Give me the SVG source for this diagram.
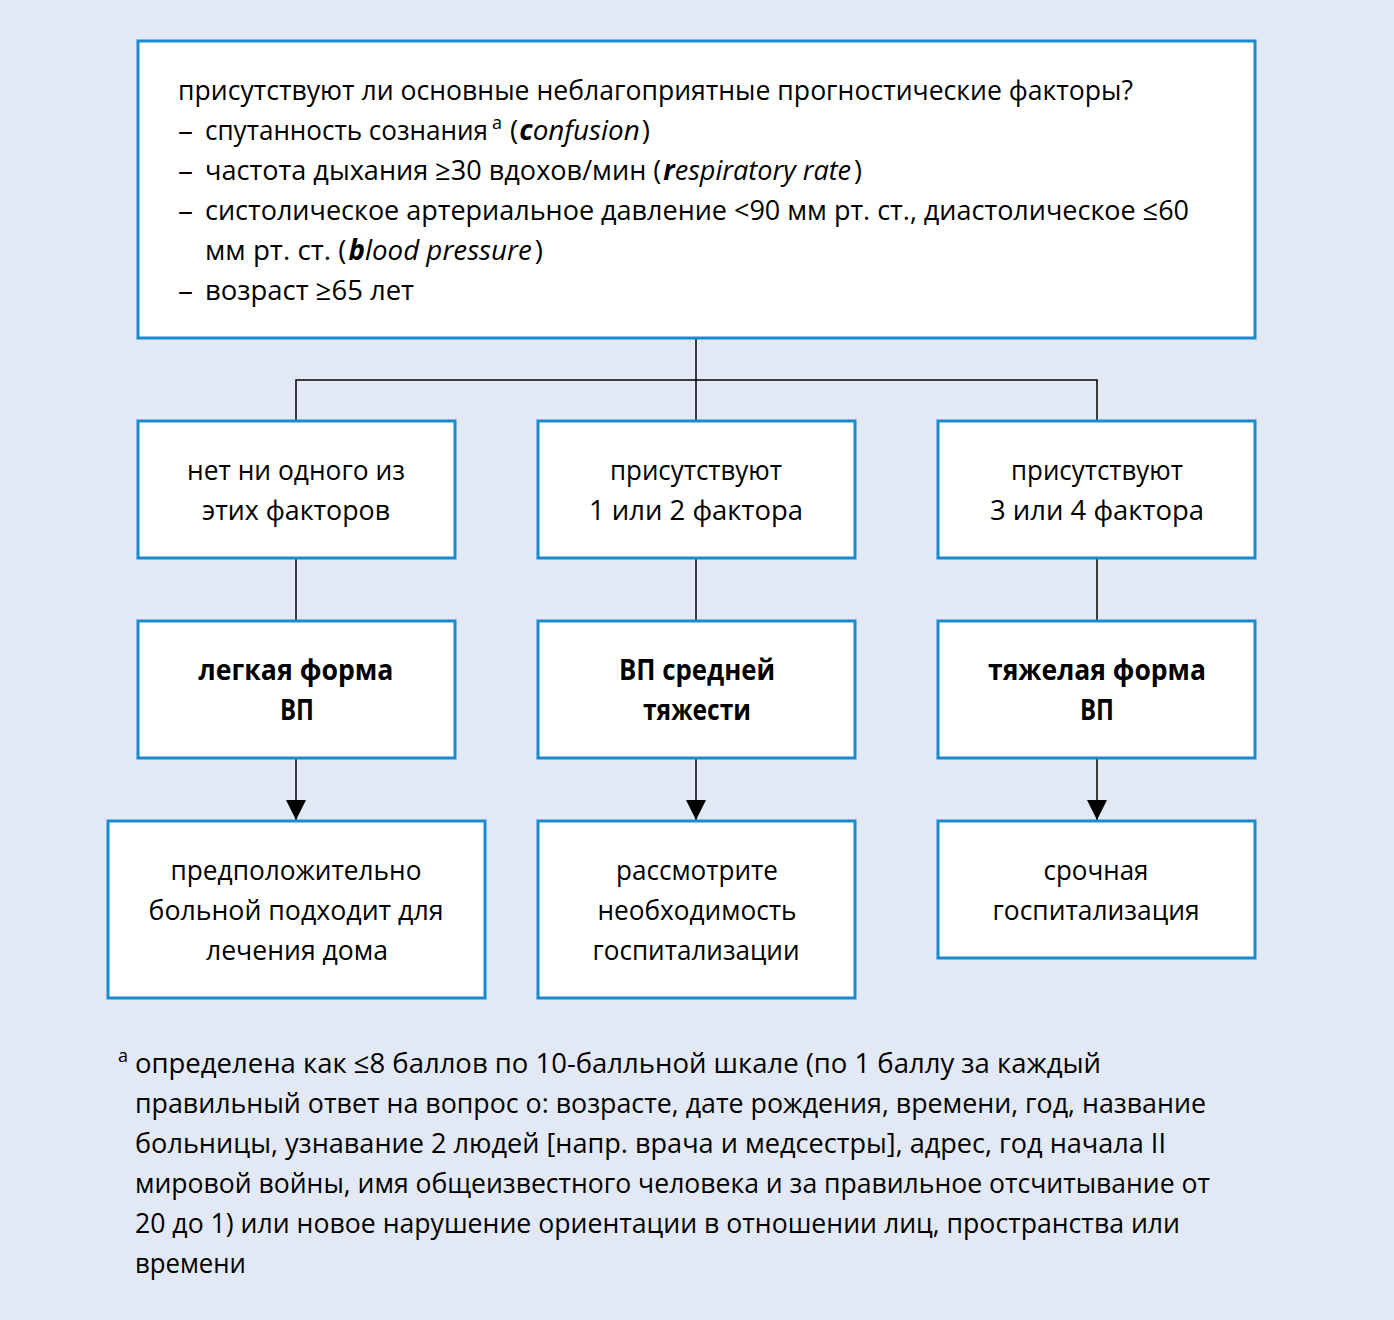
<svg xmlns="http://www.w3.org/2000/svg" width="1394" height="1320" viewBox="0 0 1394 1320">
<style>
  .box { fill: #ffffff; stroke: #1a8ad0; stroke-width: 3; }
  .ln { fill: none; stroke: #000000; stroke-width: 1.5; }
  text { font-family: "Open Sans", "Noto Sans", "DejaVu Sans", sans-serif; font-size: 28px; fill: #000000; }
  .c { text-anchor: middle; }
  .b { font-weight: 700; }
  .i { font-style: italic; }
  .sup { font-size: 18px; }
</style>
<defs>
  <marker id="arr" viewBox="0 0 20 20" refX="20" refY="10" markerWidth="20" markerHeight="20" markerUnits="userSpaceOnUse" orient="auto">
    <path d="M0,0 L20,10 L0,20 Z" fill="#000000"/>
  </marker>
</defs>
<rect x="0" y="0" width="1394" height="1320" fill="#e2e9f4"/>

<g id="connectors">
  <line class="ln" x1="696" y1="338" x2="696" y2="421"/>
  <polyline class="ln" points="296,421 296,380 1097,380 1097,421"/>
  <line class="ln" x1="296" y1="558" x2="296" y2="621"/>
  <line class="ln" x1="696" y1="558" x2="696" y2="621"/>
  <line class="ln" x1="1097" y1="558" x2="1097" y2="621"/>
  <line class="ln" x1="296" y1="758" x2="296" y2="820" marker-end="url(#arr)"/>
  <line class="ln" x1="696" y1="758" x2="696" y2="820" marker-end="url(#arr)"/>
  <line class="ln" x1="1097" y1="758" x2="1097" y2="820" marker-end="url(#arr)"/>
</g>

<g id="node-top">
  <rect class="box" x="138" y="41" width="1117" height="297"/>
  <text x="178" y="100" textLength="955" lengthAdjust="spacingAndGlyphs">присутствуют ли основные неблагоприятные прогностические факторы?</text>
  <text x="178" y="140" textLength="15" lengthAdjust="spacingAndGlyphs">–</text>
  <text x="205" y="140" textLength="283" lengthAdjust="spacingAndGlyphs">спутанность сознания</text>
  <text class="sup" x="492" y="129">a</text>
  <text x="510" y="140" textLength="140" lengthAdjust="spacingAndGlyphs">(<tspan class="i b" dx="1">c</tspan><tspan class="i">onfusion</tspan><tspan dx="2">)</tspan></text>
  <text x="178" y="180" textLength="15" lengthAdjust="spacingAndGlyphs">–</text>
  <text x="205" y="180" textLength="657" lengthAdjust="spacingAndGlyphs">частота дыхания ≥30 вдохов/мин (<tspan class="i b" dx="2">r</tspan><tspan class="i">espiratory rate</tspan><tspan dx="3">)</tspan></text>
  <text x="178" y="220" textLength="15" lengthAdjust="spacingAndGlyphs">–</text>
  <text x="205" y="220" textLength="984" lengthAdjust="spacingAndGlyphs">систолическое артериальное давление &lt;90 мм рт. ст., диастолическое ≤60</text>
  <text x="205" y="260" textLength="338" lengthAdjust="spacingAndGlyphs">мм рт. ст. (<tspan class="i b" dx="2">b</tspan><tspan class="i">lood pressure</tspan><tspan dx="3">)</tspan></text>
  <text x="178" y="300" textLength="15" lengthAdjust="spacingAndGlyphs">–</text>
  <text x="205" y="300" textLength="209" lengthAdjust="spacingAndGlyphs">возраст ≥65 лет</text>
</g>

<g id="node-none">
  <rect class="box" x="138" y="421" width="317" height="137"/>
  <text class="c" x="296" y="480" textLength="218" lengthAdjust="spacingAndGlyphs">нет ни одного из</text>
  <text class="c" x="296" y="520" textLength="188" lengthAdjust="spacingAndGlyphs">этих факторов</text>
</g>
<g id="node-12">
  <rect class="box" x="538" y="421" width="317" height="137"/>
  <text class="c" x="696" y="480" textLength="172" lengthAdjust="spacingAndGlyphs">присутствуют</text>
  <text class="c" x="696" y="520" textLength="214" lengthAdjust="spacingAndGlyphs">1 или 2 фактора</text>
</g>
<g id="node-34">
  <rect class="box" x="938" y="421" width="317" height="137"/>
  <text class="c" x="1097" y="480" textLength="172" lengthAdjust="spacingAndGlyphs">присутствуют</text>
  <text class="c" x="1097" y="520" textLength="214" lengthAdjust="spacingAndGlyphs">3 или 4 фактора</text>
</g>

<g id="node-mild">
  <rect class="box" x="138" y="621" width="317" height="137"/>
  <text class="c b" x="296" y="680" textLength="195" lengthAdjust="spacingAndGlyphs">легкая форма</text>
  <text class="c b" x="297" y="720" textLength="34" lengthAdjust="spacingAndGlyphs">ВП</text>
</g>
<g id="node-moderate">
  <rect class="box" x="538" y="621" width="317" height="137"/>
  <text class="c b" x="697" y="680" textLength="156" lengthAdjust="spacingAndGlyphs">ВП средней</text>
  <text class="c b" x="697" y="720" textLength="108" lengthAdjust="spacingAndGlyphs">тяжести</text>
</g>
<g id="node-severe">
  <rect class="box" x="938" y="621" width="317" height="137"/>
  <text class="c b" x="1097" y="680" textLength="218" lengthAdjust="spacingAndGlyphs">тяжелая форма</text>
  <text class="c b" x="1097" y="720" textLength="34" lengthAdjust="spacingAndGlyphs">ВП</text>
</g>

<g id="node-home">
  <rect class="box" x="108" y="821" width="377" height="177"/>
  <text class="c" x="296" y="880" textLength="251" lengthAdjust="spacingAndGlyphs">предположительно</text>
  <text class="c" x="296" y="920" textLength="295" lengthAdjust="spacingAndGlyphs">больной подходит для</text>
  <text class="c" x="297" y="960" textLength="182" lengthAdjust="spacingAndGlyphs">лечения дома</text>
</g>
<g id="node-consider">
  <rect class="box" x="538" y="821" width="317" height="177"/>
  <text class="c" x="697" y="880" textLength="162" lengthAdjust="spacingAndGlyphs">рассмотрите</text>
  <text class="c" x="697" y="920" textLength="199" lengthAdjust="spacingAndGlyphs">необходимость</text>
  <text class="c" x="696" y="960" textLength="207" lengthAdjust="spacingAndGlyphs">госпитализации</text>
</g>
<g id="node-urgent">
  <rect class="box" x="938" y="821" width="317" height="137"/>
  <text class="c" x="1096" y="880" textLength="105" lengthAdjust="spacingAndGlyphs">срочная</text>
  <text class="c" x="1096" y="920" textLength="207" lengthAdjust="spacingAndGlyphs">госпитализация</text>
</g>

<g id="footnote">
  <text class="sup" x="118" y="1062">a</text>
  <text x="135" y="1073" textLength="966" lengthAdjust="spacingAndGlyphs">определена как ≤8 баллов по 10-балльной шкале (по 1 баллу за каждый</text>
  <text x="135" y="1113" textLength="1071" lengthAdjust="spacingAndGlyphs">правильный ответ на вопрос о: возрасте, дате рождения, времени, год, название</text>
  <text x="135" y="1153" textLength="1031" lengthAdjust="spacingAndGlyphs">больницы, узнавание 2 людей [напр. врача и медсестры], адрес, год начала II</text>
  <text x="135" y="1193" textLength="1075" lengthAdjust="spacingAndGlyphs">мировой войны, имя общеизвестного человека и за правильное отсчитывание от</text>
  <text x="135" y="1233" textLength="1045" lengthAdjust="spacingAndGlyphs">20 до 1) или новое нарушение ориентации в отношении лиц, пространства или</text>
  <text x="135" y="1273" textLength="111" lengthAdjust="spacingAndGlyphs">времени</text>
</g>
</svg>
